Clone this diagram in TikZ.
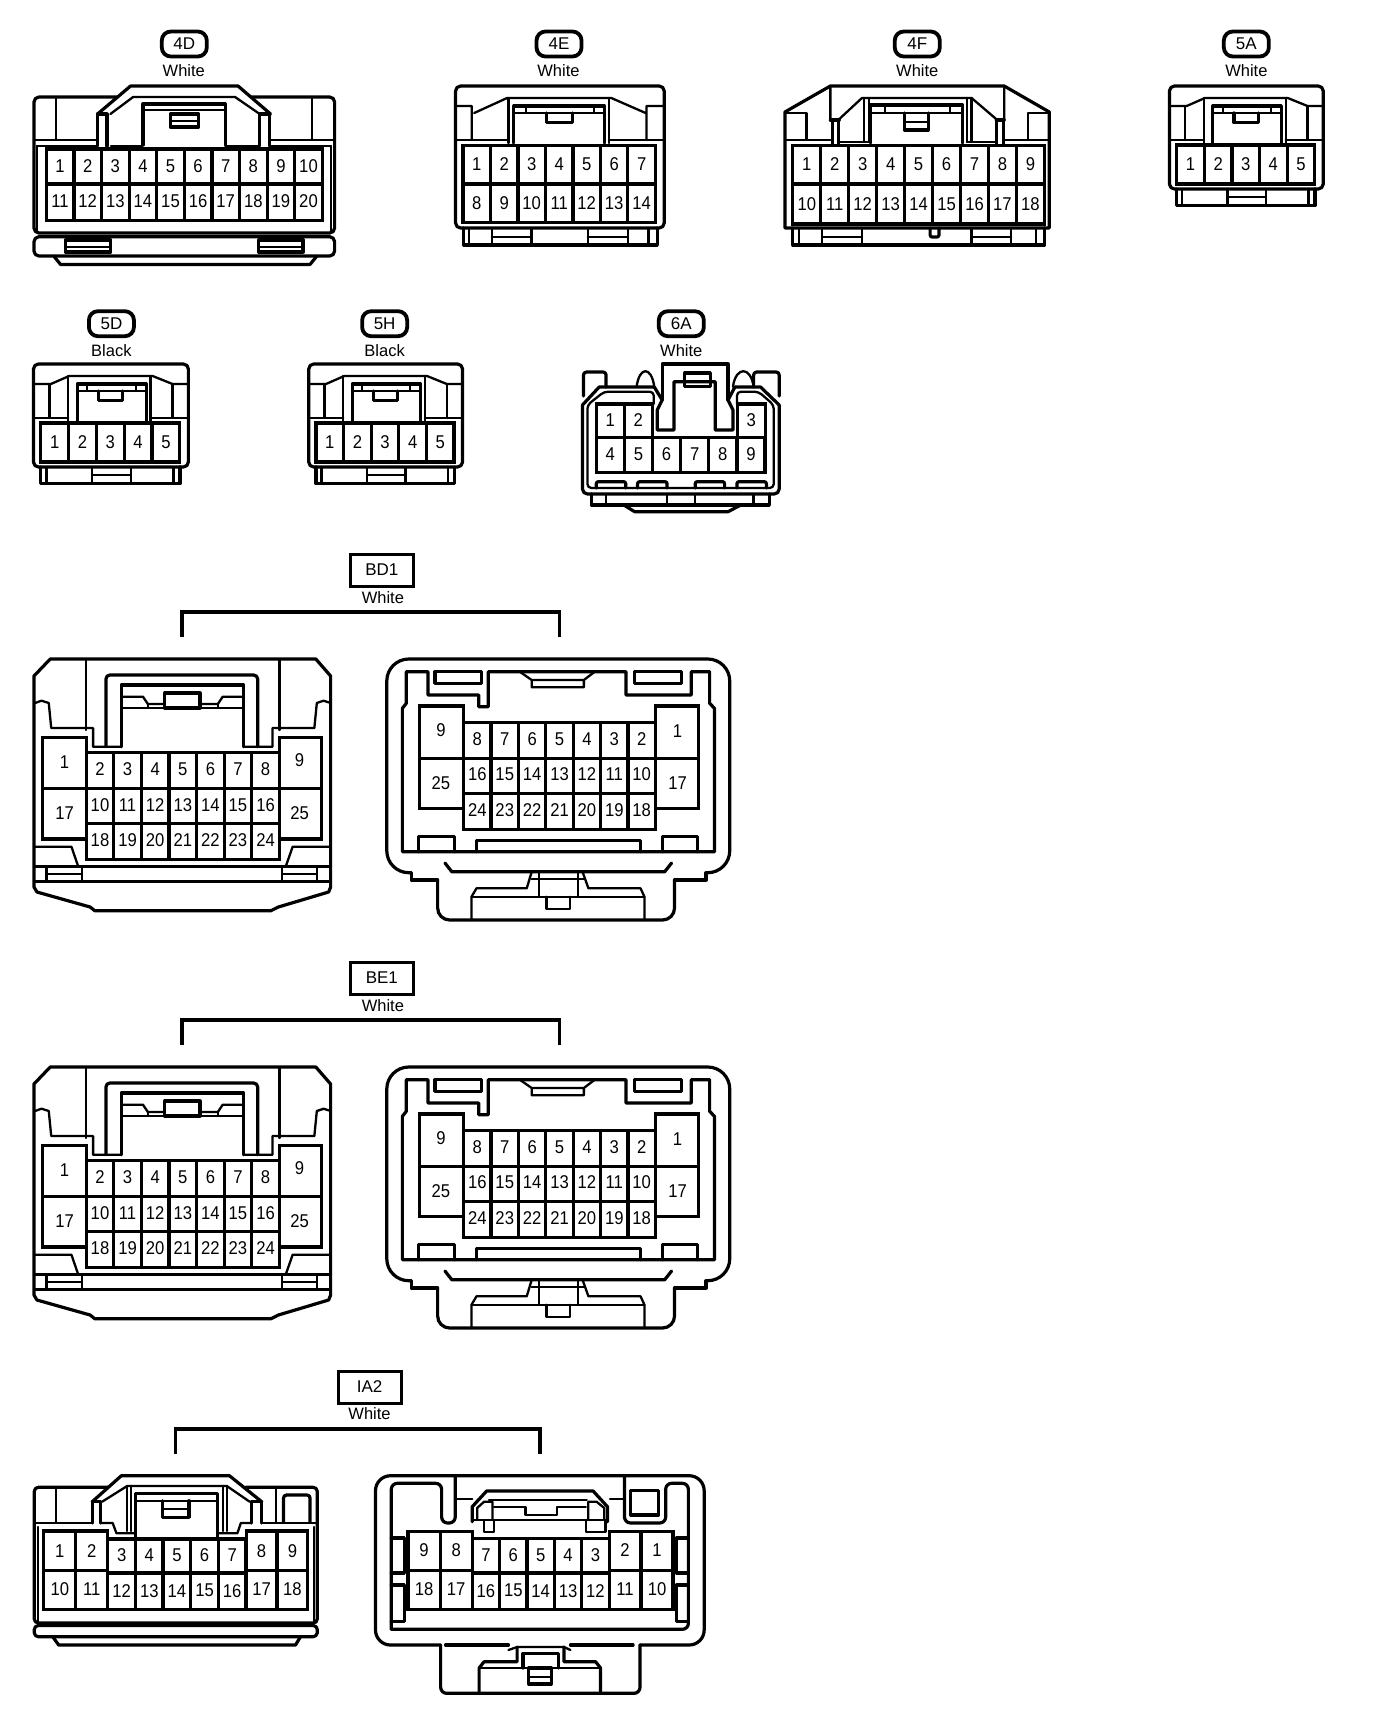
\documentclass[tikz,border=0pt]{standalone}
\usepackage{fontspec}
\setmainfont{Liberation Sans}
\newfontfamily\pinfont[FakeStretch=0.9]{Liberation Sans}
\tikzset{
 ln/.style={line width=3.2pt,line join=round,line cap=round},
 tn/.style={line width=2.3pt,line join=round,line cap=round},
 cellline/.style={line width=3.2pt,line join=miter},
 pin/.style={inner sep=0pt,font=\pinfont\fontsize{18.5}{20}\selectfont},
 color label/.style={inner sep=0pt,font=\fontsize{16.5}{18}\selectfont},
 pill/.style={draw,line width=3.8pt,rounded corners=9pt,minimum width=45pt,minimum height=25pt,inner sep=0pt,font=\fontsize{17}{18}\selectfont},
 tagbox/.style={draw,line width=3pt,minimum width=63pt,minimum height=32pt,inner sep=0pt,font=\fontsize{17}{18}\selectfont},
 bracket/.style={line width=3.4pt,line join=miter},
 xfit/.style 2 args={shift={(#2,0)},xscale=#1}
}
% prefix, x0, cell width, y1, y2, ylabel, list
\newcommand{\cellrow}[7]{%
 \foreach \lbl [count=\idx] in {#7} {
  \draw[cellline] ({#2+(\idx-1)*#3},#4) rectangle ({#2+\idx*#3},#5);
  \node[pin] (#1-\lbl) at ({#2+(\idx-.5)*#3},#6) {\lbl};
 }}
\newcommand{\fiveconn}[5]{% prefix, dx, dy, scale, offset; drawn in 5A's coordinates
 \begin{scope}[shift={(#5,#3)},xscale=#4,shift={(#2,0)}]
  \draw[ln,rounded corners=5pt] (1176,189) -- (1176,86) -- (1332,86) -- (1332,189) -- cycle;
  \draw[tn] (1176,106) -- (1193.5,106) -- (1212,98) -- (1296,98) -- (1316,106) -- (1332,106);
  \draw[tn] (1192,106) -- (1192,140) (1211,98) -- (1211,143) (1294,98) -- (1294,143) (1316,106) -- (1316,140);
  \draw[tn] (1176,140) -- (1211,140) (1294,140) -- (1332,140);
  \draw[ln] (1220,143) -- (1220,106) -- (1289.5,106) -- (1289.5,143);
  \draw[tn] (1220,113) -- (1289.5,113) (1230,106) -- (1230,113) (1279,106) -- (1279,113);
  \draw[ln] (1241.5,113) -- (1241.5,122.7) -- (1266,122.7) -- (1266,113);
  \cellrow{#1}{1183.4}{28}{145}{184}{164.5}{1,2,3,4,5}
  \draw[ln] (1183.4,189) -- (1183.4,205.7) -- (1323.6,205.7) -- (1323.6,189);
  \draw[tn] (1189,189) -- (1189,205.7) (1235,189) -- (1235,205.7) (1274,189) -- (1274,205.7) (1317,189) -- (1317,205.7) (1235,196.7) -- (1274,196.7);
 \end{scope}}
\newcommand{\bdpair}[3]{% prefix, dy, tag
 \begin{scope}[shift={(.47,#2)},xscale=.9855]
  \node[tagbox] (#1tag) at (387,570) {#3};
  \node[color label] (#1col) at (388,597.5) {White};
  \coordinate (#1a) at (184,637); \coordinate (#1b) at (184,612);
  \coordinate (#1c) at (567,612); \coordinate (#1d) at (567,637);
  \draw[bracket] (#1a) -- (#1b) -- (#1c) -- (#1d);
  % left connector
  \draw[ln] (50.5,659) -- (320,659) -- (335,676) -- (335,887) -- (333,892) -- (282,907) -- (274.5,910.7) -- (95.6,910.7) -- (91,907) -- (37,892) -- (34,887) -- (34,676) -- cycle;
  \draw[tn,rounded corners=4pt] (87,730) -- (87,659) (283,659) -- (283,730);
  \draw[tn] (35,703) -- (41.7,700.7) -- (49,703) -- (51.5,728) -- (94,728) -- (94,746.7) -- (122.5,746.7);
  \draw[tn] (335,703) -- (328,700.7) -- (321,703) -- (318.5,728) -- (276,728) -- (276,746.7) -- (246.6,746.7);
  \draw[ln,rounded corners=4pt] (107,746.7) -- (107,675) -- (261,675) -- (261,746.7);
  \draw[ln] (122.5,746.7) -- (122.5,685) -- (246.6,685) -- (246.6,746.7);
  \draw[tn] (122.5,696.7) -- (144.6,696.7) -- (149.5,704) -- (166.7,704) (202.5,704) -- (220.6,704) -- (225.5,696.7) -- (246.6,696.7);
  \draw[tn] (122.5,708) -- (246.6,708) (149.5,704) -- (149.5,708) (220.6,704) -- (220.6,708);
  \draw[ln] (166.7,708) rectangle (202.5,693);
  \cellrow{#1l1}{87}{28}{752.3}{788.3}{769}{2,3,4,5,6,7,8}
  \cellrow{#1l2}{87}{28}{788.3}{823.3}{805}{10,11,12,13,14,15,16}
  \cellrow{#1l3}{87}{28}{823.3}{859.3}{840}{18,19,20,21,22,23,24}
  \draw[cellline] (43,737.3) rectangle (87,788.3) (43,788.3) rectangle (87,839) (283,737.3) rectangle (326,788.3) (283,788.3) rectangle (326,839);
  \node[pin] (#1l-1) at (65,761.7) {1};
  \node[pin] (#1l-17) at (65,812.7) {17};
  \node[pin] (#1l-9) at (303.5,760) {9};
  \node[pin] (#1l-25) at (303.5,813) {25};
  \draw[tn] (35,846.7) -- (72,846.7) -- (78.4,865) (333,846.7) -- (296.5,846.7) -- (290,865);
  \draw[ln] (35,866.7) -- (335,866.7) (35,881.7) -- (335,881.7);
  \draw[tn] (46.6,866.7) -- (46.6,881.7) (82.4,866.7) -- (82.4,881.7) (46.6,874) -- (82.4,874) (286,866.7) -- (286,881.7) (321,866.7) -- (321,881.7) (286,874) -- (321,874);
  % right connector
  \draw[ln,rounded corners=22pt] (416.7,872.7) -- (392,872.7) -- (392,659) -- (740,659) -- (740,872.7) -- (716,872.7);
  \draw[ln] (416.7,872.7) -- (416.7,880) -- (443.6,880);
  \draw[ln] (716,872.7) -- (716,880) -- (684,880);
  \draw[ln,rounded corners=12pt] (443.6,880) -- (443.6,920) -- (684,920) -- (684,880);
  \draw[ln] (411.8,671.7) -- (433.8,671.7) -- (433.8,695) -- (485.3,695) -- (485.3,706.7) -- (495,706.7) -- (495,671.7) -- (527,671.7) -- (605.4,671.7) -- (634.8,671.7) -- (634.8,695) -- (701,695) -- (701,671.7) -- (719.6,671.7) -- (719.6,703.3) -- (724.5,708.3) -- (724.5,851.7) -- (407.8,851.7) -- (407.8,708.3) -- (411.8,703.3) -- cycle;
  \draw[ln] (441,671.7) rectangle (487.7,683.3) (643.6,671.7) rectangle (691,683.3);
  \draw[tn] (527,671.7) -- (539,680) -- (539,687.3) -- (592,687.3) -- (592,680) -- (603,671.7) (539,680) -- (592,680);
  \cellrow{#1r1}{470}{27.8}{722.7}{758.3}{739}{8,7,6,5,4,3,2}
  \cellrow{#1r2}{470}{27.8}{758.3}{793.3}{774.3}{16,15,14,13,12,11,10}
  \cellrow{#1r3}{470}{27.8}{793.3}{829.3}{810}{24,23,22,21,20,19,18}
  \draw[cellline] (425,706) rectangle (470,758.3) (425,758.3) rectangle (470,808.3) (664.6,706) rectangle (708.5,758.3) (664.6,758.3) rectangle (708.5,808.3);
  \node[pin] (#1r-9) at (447,730) {9};
  \node[pin] (#1r-25) at (447,782.7) {25};
  \node[pin] (#1r-1) at (687,730.7) {1};
  \node[pin] (#1r-17) at (687,782.7) {17};
  \draw[ln] (424,851.7) -- (424,836.7) -- (460.8,836.7) -- (460.8,851.7) (671.6,851.7) -- (671.6,836.7) -- (707.4,836.7) -- (707.4,851.7) (482.8,851.7) -- (482.8,840.7) -- (649.5,840.7) -- (649.5,851.7);
  \draw[ln] (451,863) -- (458,871.7) -- (674,871.7) -- (681,863);
  \draw[tn] (539,872) -- (534,888.3) -- (483,888.3) -- (478,896.7) -- (478,920) (590.7,872) -- (596.6,888.3) -- (649.5,888.3) -- (653.4,896.7) -- (653.4,920);
  \draw[tn] (478,896.7) -- (653.4,896.7) (546.6,872) -- (546.6,896.7) (585.8,872) -- (585.8,896.7) (539,879.3) -- (592,879.3);
  \draw[tn] (554,896.7) -- (554,909.3) -- (578,909.3) -- (578,896.7);
 \end{scope}}
\begin{document}
\begin{tikzpicture}[x=1pt,y=-1pt]
\useasboundingbox (0,0) rectangle (1376,1722);
\fill[white] (0,0) rectangle (1376,1722);
% 4D
\begin{scope}[xfit={.9857}{.47}]
\node[pill] (t4D) at (186.5,44) {4D};
\node[color label] (c4D) at (186,71) {White};
\draw[ln,rounded corners=5pt] (118,97) -- (34,97) -- (34,233) -- (339,233) -- (339,97) -- (255,97);
\draw[ln] (98.5,114) -- (132,86) -- (241,86) -- (274,114);
\draw[tn] (56.5,97) -- (56.5,140) (316,97) -- (316,140) (34,140) -- (98,140) (274,140) -- (339,140);
\draw[ln] (98.5,114) -- (98.5,146) (108,114) -- (108,146) (263,114) -- (263,146) (273,114) -- (273,146) (98.5,114) -- (108,114) (263,114) -- (273,114);
\draw[tn] (111.5,114) -- (134.6,97) -- (238,97) -- (263,114);
\draw[ln] (144.5,145) -- (144.5,104) -- (228,104) -- (228,145);
\draw[tn] (144.5,110) -- (228,110);
\draw[ln] (172.5,114) rectangle (201,127);
\draw[tn] (172.5,121) -- (201,121);
\draw[tn] (37,146) -- (98,146) (112,146) -- (144,146) (228,146) -- (262,146) (274,146) -- (335,146);
\draw[tn] (37,146) -- (37,232) (335,146) -- (335,232);
\cellrow{4Da}{46.5}{28}{149}{184}{166}{1,2,3,4,5,6,7,8,9,10}
\cellrow{4Db}{46.5}{28}{184}{220.7}{201}{11,12,13,14,15,16,17,18,19,20}
\draw[ln,rounded corners=5pt] (34,236.7) rectangle (339,256);
\draw[ln] (54,256) -- (61,264.5) -- (314,264.5) -- (321,256);
\draw[ln] (66,240) rectangle (112,252) (262,240) rectangle (307,252);
\draw[tn] (66,246.7) -- (112,246.7) (262,246.7) -- (307,246.7);
\end{scope}
% 4E
\begin{scope}[xfit={.9795}{5}]
\node[pill] (t4E) at (565.6,44) {4E};
\node[color label] (c4E) at (565,71) {White};
\draw[ln,rounded corners=5pt] (460,228) -- (460,86) -- (673,86) -- (673,228) -- cycle;
\draw[tn] (460,106) -- (476.5,106) -- (476.5,140) (673,106) -- (655,106) -- (655,140) (479,113) -- (512.6,98) -- (619,98) -- (654,113);
\draw[tn] (514,98) -- (514,143) (616.5,98) -- (616.5,143) (460,140) -- (514,140) (616.5,140) -- (673,140);
\draw[ln] (519.5,143) -- (519.5,106) -- (612,106) -- (612,143);
\draw[tn] (519.5,113) -- (612,113) (532,106) -- (532,113) (601,106) -- (601,113);
\draw[ln] (553,113) -- (553,122.7) -- (579,122.7) -- (579,113);
\cellrow{4Ea}{467.5}{28.07}{145.7}{184}{164}{1,2,3,4,5,6,7}
\cellrow{4Eb}{467.5}{28.07}{184}{222.7}{203}{8,9,10,11,12,13,14}
\draw[ln] (468.4,228) -- (468.4,245) -- (666,245) -- (666,228);
\draw[tn] (474,228) -- (474,245) (497,228) -- (497,245) (537.5,228) -- (537.5,245) (595,228) -- (595,245) (636,228) -- (636,245) (657,228) -- (657,245) (497,236.7) -- (537.5,236.7) (595,236.7) -- (636,236.7);
\end{scope}
% 4F
\begin{scope}[xfit={.9878}{8.5}]
\node[pill] (t4F) at (920,44) {4F};
\node[color label] (c4F) at (920,71) {White};
\draw[ln] (786,228) -- (786,112) -- (832,86) -- (1008,86) -- (1053.7,112) -- (1053.7,228) -- cycle;
\draw[tn] (832,86) -- (832,120) (1008,86) -- (1008,120) (840,120) -- (864,98) -- (975,98) -- (1001,120);
\draw[ln] (834,122) -- (834,145) (840.6,122) -- (840.6,145) (1000,122) -- (1000,145) (1007,122) -- (1007,145) (832,120) -- (841,120) (1000,120) -- (1008,120);
\draw[tn] (787,113) -- (808,113) -- (808,140) (1032,140) -- (1032,113) -- (1053,113) (786,140) -- (832,140) (1008,140) -- (1053,140);
\draw[tn] (866,98) -- (866,142) (871,98) -- (871,142) (970,98) -- (970,142) (975,98) -- (975,142) (840,142) -- (871,142) (970,142) -- (1000,142);
\draw[ln] (873,143) -- (873,105) -- (966,105) -- (966,143);
\draw[tn] (873,113) -- (966,113) (887,105) -- (887,113) (953,105) -- (953,113);
\draw[ln] (907,113) -- (907,130) -- (931,130) -- (931,113);
\draw[tn] (907,122) -- (931,122);
\cellrow{4Fa}{794}{28.3}{145.7}{184}{164}{1,2,3,4,5,6,7,8,9}
\cellrow{4Fb}{794}{28.3}{184}{224}{204}{10,11,12,13,14,15,16,17,18}
\draw[ln] (794,228) -- (794,245) -- (1049,245) -- (1049,228);
\draw[tn] (800,228) -- (800,245) (823.6,228) -- (823.6,245) (864,228) -- (864,245) (975,228) -- (975,245) (1015,228) -- (1015,245) (1040,228) -- (1040,245) (823.6,236.7) -- (864,236.7) (975,236.7) -- (1015,236.7);
\draw[ln,rounded corners=2pt] (933,228) -- (933,237) -- (942,237) -- (942,228);
\end{scope}
% 5A 5D 5H
\begin{scope}[xfit={.986}{9.9}]
\node[pill] (t5A) at (1254,44) {5A};
\node[color label] (c5A) at (1254,71) {White};
\end{scope}
\fiveconn{5A}{0}{0}{.986}{9.9}
\begin{scope}[xfit={.993}{.2}]
\node[pill] (t5D) at (112,323.7) {5D};
\node[color label] (c5D) at (112,350.5) {Black};
\end{scope}
\fiveconn{5D}{-1142.5}{278}{.993}{.2}
\begin{scope}[xfit={.986}{1.1}]
\node[pill] (t5H) at (389,323.7) {5H};
\node[color label] (c5H) at (389,350.5) {Black};
\end{scope}
\fiveconn{5H}{-864}{278}{.986}{1.1}
% 6A
\begin{scope}[xfit={.9835}{3.2}]
\node[pill] (t6A) at (689.5,323.7) {6A};
\node[color label] (c6A) at (689.5,350.5) {White};
\draw[ln,rounded corners=3pt] (590,396) -- (590,372) -- (613,372) -- (613,387);
\draw[ln,rounded corners=3pt] (789,396) -- (789,372) -- (763,372) -- (763,387);
\draw[ln] (589,405) -- (606,387) -- (662,387) (744,387) -- (770,387) -- (789,405);
\draw[ln,rounded corners=5pt] (589,405) -- (589,494) -- (789,494) -- (789,405);
\draw[tn] (644,386.7) .. controls (647,366) and (659,366) .. (662,386.7) (742,386.7) .. controls (745,366) and (760,366) .. (763,386.7);
\draw[ln] (670,400) -- (670,364) -- (737,364) -- (737,400);
\draw[ln] (662,387) -- (670,400) -- (665,410) -- (665,430) -- (682,430) -- (682,381.7) -- (724,381.7) -- (724,430) -- (742,430) -- (742,410) -- (737,400) -- (744,387);
\draw[ln] (693,373) rectangle (719,386.7);
\draw[tn,rounded corners=4pt] (661.5,404) -- (661.5,391.7) -- (611,391.7) -- (594,405) -- (594,488) -- (783.5,488) -- (783.5,405) -- (768,391.7) -- (746,391.7) -- (746,404);
\cellrow{6Aa}{603}{28.5}{404}{437.7}{420}{1,2}
\draw[cellline] (746.5,404) rectangle (775,437.7);
\node[pin] (6Aa-3) at (760.5,420) {3};
\cellrow{6Ab}{603}{28.6}{437.7}{472.7}{454}{4,5,6,7,8,9}
\draw[ln,rounded corners=2pt] (603,488) -- (603,481.7) -- (633,481.7) -- (633,488) (645,488) -- (645,481.7) -- (675,481.7) -- (675,488) (703.6,488) -- (703.6,481.7) -- (733.5,481.7) -- (733.5,488) (746,488) -- (746,481.7) -- (776,481.7) -- (776,488);
\draw[ln] (598,494) -- (598,505) -- (779,505) -- (779,494);
\draw[tn] (613,494) -- (613,505) (675,494) -- (675,505) (703.6,494) -- (703.6,505) (763,494) -- (763,505);
\draw[ln] (631,505) -- (642,511.7) -- (737,511.7) -- (750,505);
\end{scope}
% BD1 BE1
\bdpair{BD}{0}{BD1}
\bdpair{BE}{408}{BE1}
% IA2
\begin{scope}[xfit={.987}{.44}]
\node[tagbox] (tIA) at (374,1387) {IA2};
\node[color label] (cIA) at (374,1413.3) {White};
\coordinate (iaa) at (177.5,1454); \coordinate (iab) at (177.5,1429);
\coordinate (iac) at (546.6,1429); \coordinate (iad) at (546.6,1454);
\draw[bracket] (iaa) -- (iab) -- (iac) -- (iad);
% IA2 left
\draw[ln,rounded corners=4pt] (109,1487.3) -- (34.3,1487.3) -- (34.3,1623) -- (321,1623) -- (321,1487.3) -- (248.5,1487.3);
\draw[ln] (93,1501.7) -- (122.5,1475.7) -- (232,1475.7) -- (264.7,1501.7);
\draw[tn] (56.4,1487.3) -- (56.4,1521.7) (279.4,1487.3) -- (279.4,1521.7);
\draw[ln,rounded corners=3pt] (286.8,1521.7) -- (286.8,1495) -- (313.7,1495) -- (313.7,1521.7);
\draw[tn] (34.3,1523) -- (93,1523) (264.7,1523) -- (321,1523);
\draw[tn] (38,1527) -- (38,1622) (318,1527) -- (318,1622);
\draw[ln] (93,1501.7) -- (93,1523) (101.5,1501.7) -- (101.5,1523) (254,1501.7) -- (254,1523) (264.7,1501.7) -- (264.7,1523) (93,1501.7) -- (101.5,1501.7) (254,1501.7) -- (264.7,1501.7);
\draw[tn] (103,1501.7) -- (128.4,1486) -- (229.4,1486) -- (252.5,1501.7);
\draw[tn] (128.4,1486) -- (128.4,1531) (132,1486) -- (132,1531) (225.5,1486) -- (225.5,1531) (229.4,1486) -- (229.4,1531);
\draw[ln] (137,1537) -- (137,1493.3) -- (219.6,1493.3) -- (219.6,1537);
\draw[tn] (137,1500.7) -- (219.6,1500.7);
\draw[ln] (164,1500.7) -- (164,1517.3) -- (191,1517.3) -- (191,1500.7);
\draw[tn] (164,1509) -- (191,1509);
\draw[tn] (101.5,1523) -- (113.7,1523) -- (117.6,1533.3) -- (137,1533.3) (219.6,1533.3) -- (240,1533.3) -- (243.6,1523) -- (254,1523);
\cellrow{IAla}{44}{32.4}{1531}{1570.7}{1550.7}{1,2}
\cellrow{IAlb}{44}{32.4}{1570.7}{1609.3}{1589}{10,11}
\cellrow{IAlc}{108.8}{28}{1539}{1573}{1555}{3,4,5,6,7}
\cellrow{IAld}{108.8}{28}{1573}{1609.3}{1590.7}{12,13,14,15,16}
\cellrow{IAle}{249}{31.2}{1531}{1570.7}{1550.7}{8,9}
\cellrow{IAlf}{249}{31.2}{1570.7}{1609.3}{1589}{17,18}
\draw[ln,rounded corners=4pt] (34.3,1625.5) rectangle (321,1636.7);
\draw[ln] (53,1636.7) -- (59,1645) -- (299,1645) -- (304,1636.7);
% IA2 right
\draw[ln,rounded corners=15pt] (446,1645) -- (380,1645) -- (380,1475.7) -- (713,1475.7) -- (713,1645) -- (648,1645);
\draw[ln,rounded corners=6pt] (446,1645) -- (446,1693.3) -- (648,1693.3) -- (648,1645);
\draw[ln] (451,1645) -- (514.7,1645) (577.5,1645) -- (641,1645);
\draw[ln,rounded corners=6pt] (396,1629.3) -- (396,1483.3) -- (447,1483.3) -- (447,1523) -- (460.8,1523) -- (460.8,1476);
\draw[ln,rounded corners=6pt] (632.3,1476) -- (632.3,1523) -- (674,1523) -- (674,1483.3) -- (697,1483.3) -- (697,1629.3) -- (396,1629.3);
\draw[ln] (638.7,1490.7) rectangle (666.7,1515);
\draw[tn] (632.3,1499.3) -- (617.6,1499.3) (460.8,1499.3) -- (478,1499.3);
\draw[ln] (478,1521.7) -- (478,1506.7) -- (492.6,1491) -- (600.5,1491) -- (615,1506.7) -- (615,1521.7);
\draw[tn] (495,1500) -- (594,1500) (500,1506.7) -- (532,1506.7) -- (532,1515) -- (563.7,1515) -- (563.7,1506.7) -- (593,1506.7) (478,1520) -- (615,1520);
\draw[tn] (483,1520) -- (483,1508) -- (490,1501.7) -- (498.5,1501.7) -- (498.5,1520) (611.8,1520) -- (611.8,1508) -- (604,1501.7) -- (595.6,1501.7) -- (595.6,1520);
\draw[tn] (490,1520) -- (490,1532) -- (500,1532) -- (500,1520) (593,1520) -- (593,1532) -- (613,1532) -- (613,1520);
\cellrow{IAra}{413}{32.5}{1531.7}{1570.7}{1550}{9,8}
\cellrow{IArb}{413}{32.5}{1570.7}{1609.3}{1589}{18,17}
\cellrow{IArc}{478}{27.74}{1538.3}{1573}{1555}{7,6,5,4,3}
\cellrow{IArd}{478}{27.74}{1573}{1609.3}{1590.7}{16,15,14,13,12}
\cellrow{IAre}{616.7}{32.35}{1531.7}{1570.7}{1550}{2,1}
\cellrow{IArf}{616.7}{32.35}{1570.7}{1609.3}{1589}{11,10}
\draw[ln] (396,1538) -- (409.3,1538) -- (409.3,1573) -- (396,1573) (396,1585) -- (409.3,1585) -- (409.3,1621.7) -- (396,1621.7) (697,1538) -- (684.8,1538) -- (684.8,1573) -- (697,1573) (697,1585) -- (684.8,1585) -- (684.8,1621.7) -- (697,1621.7);
\draw[tn] (514.7,1650) -- (523.5,1647) -- (571,1647) -- (577.5,1650);
\draw[ln] (523.5,1647) -- (523.5,1661.7) -- (490,1661.7) -- (485,1668) -- (485,1693) (571,1647) -- (571,1661.7) -- (603,1661.7) -- (608,1668) -- (608,1693);
\draw[tn] (485,1668) -- (608,1668);
\draw[ln] (529.4,1668) -- (529.4,1653.3) -- (565,1653.3) -- (565,1668);
\draw[ln] (535.3,1668) rectangle (558,1684);
\draw[tn] (535.3,1677) -- (558,1677);
\end{scope}
\end{tikzpicture}
\end{document}
